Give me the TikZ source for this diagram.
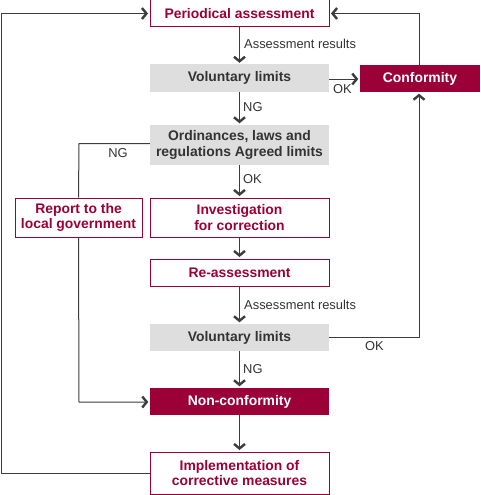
\documentclass[tikz,border=0pt]{standalone}
\usepackage{fontspec}
\setmainfont{Liberation Sans}
\usetikzlibrary{arrows.meta}
\definecolor{wine}{HTML}{9B0036}
\definecolor{boxgray}{HTML}{DEDEDE}
\definecolor{linegray}{HTML}{3C3C3C}
\definecolor{textgray}{HTML}{333333}
\tikzset{
  base/.style={rectangle, inner sep=0pt, align=center, font=\fontsize{13.9}{15.5}\selectfont\bfseries},
  redbox/.style={base, draw=wine, line width=1pt, fill=white, text=wine},
  graybox/.style={base, fill=boxgray, text=textgray},
  fillbox/.style={base, fill=wine, text=white},
  conn/.style={draw=linegray, line width=1pt},
  arr/.style={conn, -{Straight Barb[length=4.5pt,width=11pt,line width=2.4pt]}, shorten >=1.5pt},
  lbl/.style={font=\fontsize{12.9}{14}\selectfont, text=textgray, inner sep=0pt}
}
\begin{document}
\begin{tikzpicture}[x=1pt,y=-1pt]
\useasboundingbox (0,0) rectangle (480,495);
% nodes
\node[redbox, minimum width=179pt, minimum height=27pt] (pa) at (239.5,13.5) {Periodical assessment};
\node[graybox, minimum width=179pt, minimum height=27pt] (vl1) at (239.5,78) {Voluntary limits};
\node[fillbox, minimum width=120pt, minimum height=27pt] (conf) at (420,78.5) {Conformity};
\node[graybox, minimum width=179pt, minimum height=40pt] (ord) at (239.5,145) {Ordinances, laws and\\regulations Agreed limits};
\node[redbox, minimum width=127pt, minimum height=39pt] (rep) at (78.5,217.5) {Report to the\\local government};
\node[redbox, minimum width=179pt, minimum height=39pt] (inv) at (239.5,217.5) {Investigation\\for correction};
\node[redbox, minimum width=179pt, minimum height=27pt] (re) at (239.5,272.5) {Re-assessment};
\node[graybox, minimum width=179pt, minimum height=27pt] (vl2) at (239.5,337.5) {Voluntary limits};
\node[fillbox, minimum width=179pt, minimum height=27pt] (non) at (239.5,401.5) {Non-conformity};
\node[redbox, minimum width=179pt, minimum height=42pt] (imp) at (239.5,473) {Implementation of\\corrective measures};
% helper coordinates
\coordinate (tl) at (1,13.5);
\coordinate (bl) at (1,473);
\coordinate (tr) at (419,13.5);
\coordinate (br) at (419,337.5);
\coordinate (ordl) at (79,143.7);
\coordinate (repl) at (79,402);
% connectors
\draw[arr] (pa.south) -- (vl1.north);
\draw[arr] (vl1.east |- 0,79) -- (conf.west |- 0,79);
\draw[arr] (vl1.south) -- (ord.north);
\draw[arr] (ord.south) -- (inv.north);
\draw[arr] (inv.south) -- (re.north);
\draw[arr] (re.south) -- (vl2.north);
\draw[arr] (vl2.south) -- (non.north);
\draw[arr] (non.south) -- (imp.north);
\draw[conn] (ord.west |- ordl) -- (ordl) -- (rep.north);
\draw[arr] (rep.south) -- (repl) -- (non.west |- repl);
\draw[arr] (imp.west) -- (bl) -- (tl) -- (pa.west);
\draw[arr] (conf.north -| tr) -- (tr) -- (pa.east);
\draw[arr] (vl2.east) -- (br) -- (conf.south -| br);
% labels
\node[lbl, anchor=west] (l1) at (244,44) {Assessment results};
\node[lbl, anchor=west] (l2) at (333,89.5) {OK};
\node[lbl, anchor=west] (l3) at (243,107) {NG};
\node[lbl] (l4) at (118,153) {NG};
\node[lbl, anchor=west] (l5) at (243,179) {OK};
\node[lbl, anchor=west] (l6) at (244,305) {Assessment results};
\node[lbl, anchor=west] (l7) at (365,346.5) {OK};
\node[lbl, anchor=west] (l8) at (243,369.5) {NG};
\end{tikzpicture}
\end{document}
